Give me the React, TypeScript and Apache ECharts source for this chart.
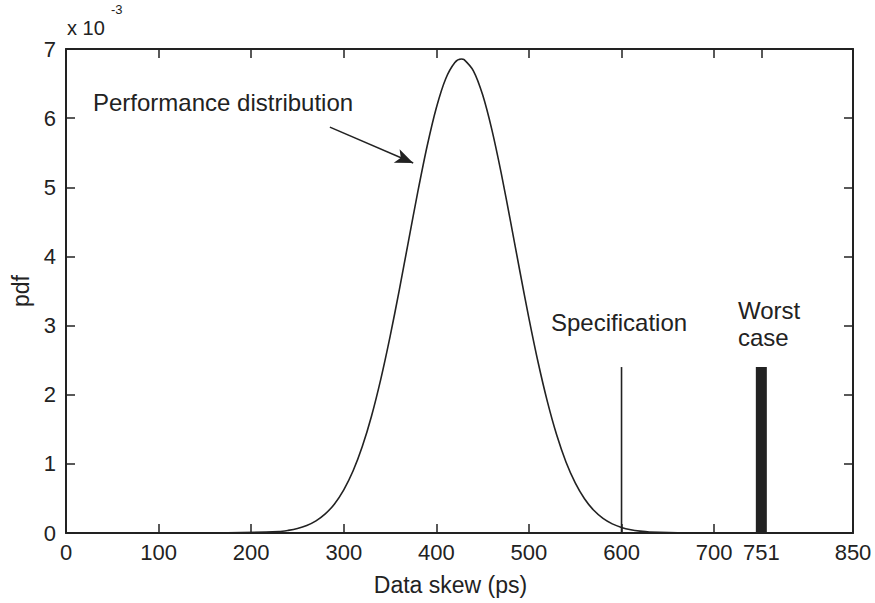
import React, { useEffect, useRef } from "react";
import * as echarts from "echarts";

// Performance distribution (pdf in units of 1e-3) vs data skew (ps)
const skewPs = [
  75, 150, 230, 240, 250, 260, 270, 280, 290, 300, 310, 320, 330, 340, 350, 360,
  370, 380, 390, 400, 410, 420, 427, 430, 440, 450, 460, 470, 480, 490, 500, 510,
  520, 530, 540, 550, 560, 570, 580, 590, 600, 610, 620, 630, 700, 850,
];
const pdfValues = [
  0.0, 0.0, 0.021, 0.038, 0.065, 0.109, 0.176, 0.276, 0.421, 0.624, 0.896, 1.25,
  1.693, 2.226, 2.84, 3.517, 4.229, 4.936, 5.593, 6.151, 6.567, 6.805, 6.855,
  6.846, 6.685, 6.337, 5.83, 5.208, 4.515, 3.8, 3.105, 2.462, 1.896, 1.416,
  1.027, 0.724, 0.495, 0.328, 0.211, 0.132, 0.08, 0.047, 0.027, 0.015, 0.0, 0.0,
];

const specificationPs = 600;
const worstCasePs = 751;
const markerHeight = 2.4;

const xTickValues = [0, 100, 200, 300, 400, 500, 600, 700, 751, 850];

const arrowStart = [285, 5.87];
const arrowEnd = [375, 5.35];

const INK = "#222";
const FONT = "Liberation Sans";

export default function App() {
  const ref = useRef<HTMLDivElement>(null);

  useEffect(() => {
    if (!ref.current) return;
    const chart = echarts.init(ref.current, undefined, { renderer: "svg" });

    const curve = skewPs.map((x, i) => [x, pdfValues[i]]);

    const baseX = {
      type: "value",
      min: 0,
      max: 850,
      splitLine: { show: false },
      axisLine: { show: true, onZero: false, lineStyle: { color: INK, width: 2 } },
      axisTick: {
        show: true,
        inside: true,
        length: 9,
        customValues: xTickValues,
        lineStyle: { color: INK, width: 1.5 },
      },
    };
    const baseY = {
      type: "value",
      min: 0,
      max: 7,
      interval: 1,
      splitLine: { show: false },
      axisLine: { show: true, onZero: false, lineStyle: { color: INK, width: 2 } },
      axisTick: {
        show: true,
        inside: true,
        length: 9,
        lineStyle: { color: INK, width: 1.5 },
      },
    };

    chart.setOption({
      animation: false,
      backgroundColor: "#fff",
      grid: { left: 66, right: 22, top: 49, bottom: 70, containLabel: false },
      xAxis: [
        {
          ...baseX,
          position: "bottom",
          name: "Data skew (ps)",
          nameLocation: "middle",
          nameGap: 40,
          nameTextStyle: {
            fontFamily: FONT,
            fontSize: 23,
            color: INK,
            padding: [0, 18, 0, 0],
          },
          axisLabel: {
            show: true,
            customValues: xTickValues,
            fontFamily: FONT,
            fontSize: 22,
            color: INK,
            margin: 8,
          },
        },
        {
          ...baseX,
          position: "top",
          axisLabel: { show: false },
        },
      ],
      yAxis: [
        {
          ...baseY,
          position: "left",
          name: "pdf",
          nameLocation: "middle",
          nameGap: 27,
          nameRotate: 90,
          nameTextStyle: { fontFamily: FONT, fontSize: 23, color: INK },
          axisLabel: {
            show: true,
            fontFamily: FONT,
            fontSize: 22,
            color: INK,
            margin: 10,
          },
        },
        {
          ...baseY,
          position: "right",
          axisLabel: { show: false },
        },
      ],
      series: [
        {
          name: "Performance distribution",
          type: "line",
          data: curve,
          smooth: 0.3,
          showSymbol: false,
          symbol: "none",
          lineStyle: { color: INK, width: 1.6 },
          markLine: {
            silent: true,
            animation: false,
            label: { show: false },
            lineStyle: { color: INK, width: 1.6, type: "solid" },
            data: [
              [
                { coord: arrowStart, symbol: "none" },
                { coord: arrowEnd, symbol: "arrow", symbolSize: [11, 18] },
              ],
            ],
          },
        },
        {
          name: "Specification",
          type: "line",
          data: [
            [specificationPs, 0],
            [specificationPs, markerHeight],
          ],
          showSymbol: false,
          symbol: "none",
          lineStyle: { color: INK, width: 1.6 },
        },
        {
          name: "Worst case",
          type: "line",
          data: [
            [worstCasePs, 0],
            [worstCasePs, markerHeight],
          ],
          showSymbol: false,
          symbol: "none",
          lineStyle: { color: INK, width: 11, cap: "butt" },
        },
      ],
      graphic: [
        {
          type: "text",
          left: 67,
          top: 18,
          style: { text: "x 10", font: `20px "${FONT}"`, fill: INK },
        },
        {
          type: "text",
          left: 111,
          top: 3,
          style: { text: "-3", font: `13px "${FONT}"`, fill: INK },
        },
        {
          type: "text",
          left: 93,
          top: 90,
          style: { text: "Performance distribution", font: `24px "${FONT}"`, fill: INK },
        },
        {
          type: "text",
          left: 551,
          top: 310,
          style: { text: "Specification", font: `24px "${FONT}"`, fill: INK },
        },
        {
          type: "text",
          left: 738,
          top: 297,
          style: {
            text: "Worst\ncase",
            font: `24px "${FONT}"`,
            lineHeight: 27,
            fill: INK,
          },
        },
      ],
    });

    return () => chart.dispose();
  }, []);

  return (
    <div
      ref={ref}
      style={{ position: "fixed", left: 0, top: 0, width: 875, height: 603 }}
    />
  );
}
